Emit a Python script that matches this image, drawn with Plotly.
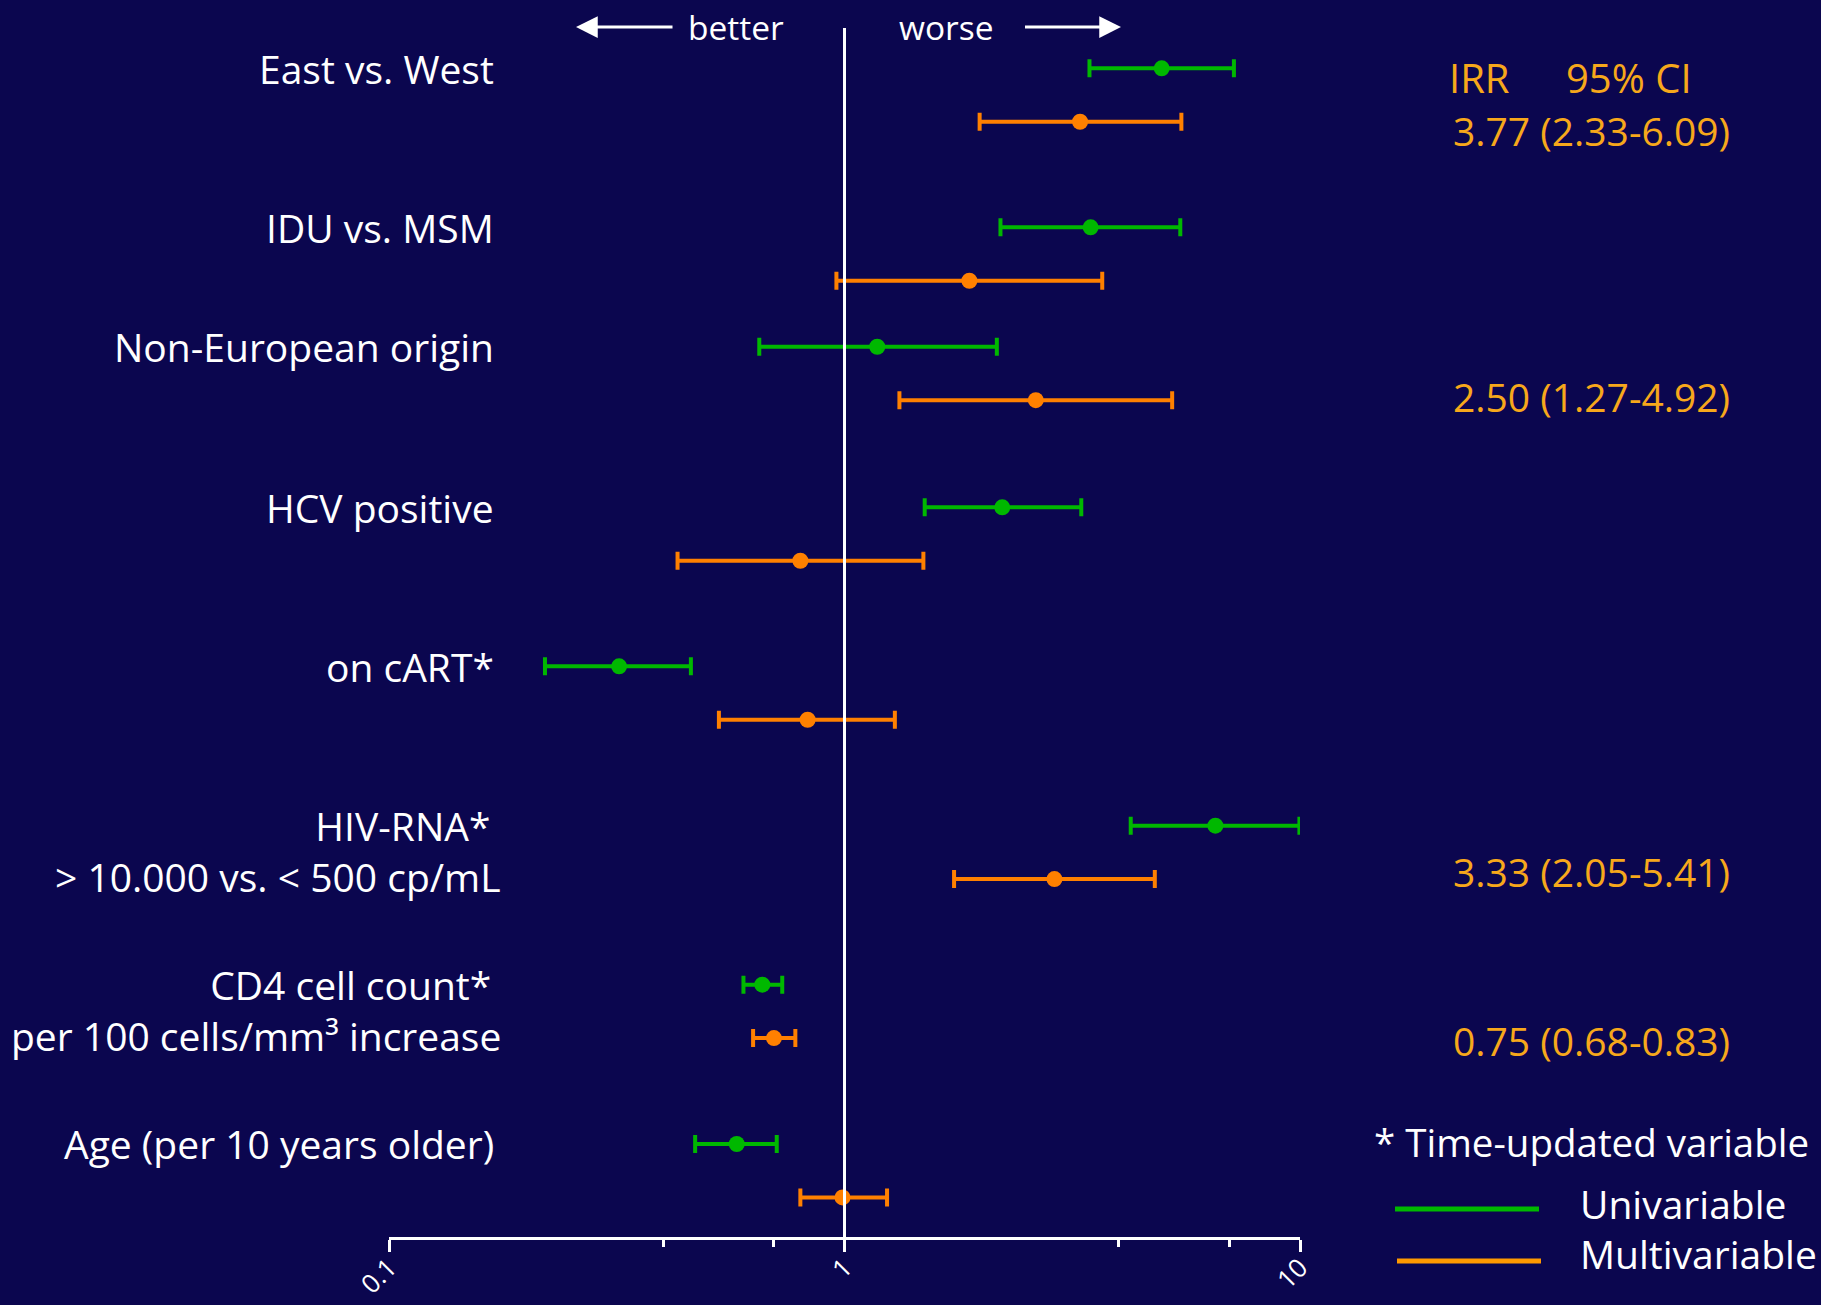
import plotly.graph_objects as go

# ---------------- data ----------------
labels = ["East vs. West", "IDU vs. MSM", "Non-European origin", "HCV positive",
          "on cART*", "HIV-RNA*", "CD4 cell count*", "Age (per 10 years older)"]
sublabels = ["", "", "", "", "", "> 10.000 vs. < 500 cp/mL",
             "per 100 cells/mm³ increase", ""]
group_pos = [0, 1, 1.751, 2.761, 3.761, 4.763, 5.763, 6.765]

uni_irr = [4.97, 3.47, 1.18, 2.22, 0.32, 6.52, 0.66, 0.58]
uni_lo = [3.45, 2.20, 0.65, 1.50, 0.22, 4.25, 0.60, 0.47]
uni_hi = [7.16, 5.46, 2.16, 3.31, 0.46, 9.97, 0.73, 0.71]

multi_irr = [3.29, 1.88, 2.63, 0.80, 0.83, 2.89, 0.70, 0.99]
multi_lo = [1.98, 0.96, 1.32, 0.43, 0.53, 1.74, 0.63, 0.80]
multi_hi = [5.49, 3.68, 5.24, 1.49, 1.29, 4.80, 0.78, 1.24]

irr_text = ["3.77 (2.33-6.09)", "", "2.50 (1.27-4.92)", "", "",
            "3.33 (2.05-5.41)", "0.75 (0.68-0.83)", ""]

tick_vals = [0.1, 1, 10]
tick_text = ["0.1", "1", "10"]
minor_vals = [0.4, 0.7, 4, 7]

# ---------------- styling ----------------
W, H = 1821, 1305
BG = "#0B064F"
GREEN = "#00B800"
ORANGE = "#FF8000"
AMBER = "#F7A81B"
FONT = "Open Sans"
OFF = 0.336  # vertical offset of multivariable row
irr_yshift = [-9, 0, 4, 0, 0, 8, -2, 0]  # pixel nudges of the IRR text

y_uni = list(group_pos)
y_multi = [p + OFF for p in group_pos]

fig = go.Figure()

fig.add_trace(go.Scatter(
    x=uni_irr, y=y_uni, mode="markers", name="Univariable",
    marker=dict(color=GREEN, size=16),
    error_x=dict(type="data", symmetric=False,
                 array=[h - v for h, v in zip(uni_hi, uni_irr)],
                 arrayminus=[v - l for v, l in zip(uni_irr, uni_lo)],
                 color=GREEN, thickness=4, width=9),
    showlegend=False, cliponaxis=False))

fig.add_trace(go.Scatter(
    x=multi_irr, y=y_multi, mode="markers", name="Multivariable",
    marker=dict(color=ORANGE, size=16),
    error_x=dict(type="data", symmetric=False,
                 array=[h - v for h, v in zip(multi_hi, multi_irr)],
                 arrayminus=[v - l for v, l in zip(multi_irr, multi_lo)],
                 color=ORANGE, thickness=4, width=9),
    showlegend=False, cliponaxis=False))

# reference line at IRR = 1
y_top, y_bot = -0.2535, 7.350
fig.add_trace(go.Scatter(x=[1, 1], y=[y_top, y_bot], mode="lines",
                         line=dict(color="white", width=3),
                         hoverinfo="skip", showlegend=False, cliponaxis=False))

x0p, x1p = 389 / W, 1300 / W
fig.update_layout(
    width=W, height=H,
    margin=dict(l=0, r=0, t=0, b=0, autoexpand=False),
    paper_bgcolor=BG, plot_bgcolor=BG,
    font=dict(family=FONT, color="white"),
    xaxis=dict(type="log", range=[-1, 1], domain=[x0p, x1p], automargin=False,
               showgrid=False, zeroline=False,
               showline=True, linecolor="white", linewidth=3,
               ticks="outside", ticklen=12, tickwidth=3, tickcolor="white",
               tickvals=tick_vals, ticktext=tick_text, tickangle=-45,
               ticklabelstandoff=-10,
               tickfont=dict(size=26, color="white", family=FONT),
               minor=dict(tickvals=minor_vals, ticks="outside", ticklen=7,
                          tickwidth=3, tickcolor="white", showgrid=False)),
    yaxis=dict(range=[y_bot, y_top], domain=[1 - 1237 / H, 1 - 28 / H],
               automargin=False, visible=False, showgrid=False, zeroline=False),
)

LBL = 39
ann = []
# row labels (two-line labels as one text block)
for lab, sub, p in zip(labels, sublabels, group_pos):
    if sub:
        ann.append(dict(text=lab + "&nbsp;<br>" + sub, xref="paper", x=503 / W,
                        yref="y", y=p, yshift=-0.65 * LBL, align="right",
                        xanchor="right", yanchor="middle", showarrow=False,
                        font=dict(size=LBL, color="white", family=FONT)))
    else:
        ann.append(dict(text=lab, xref="paper", x=496 / W, yref="y", y=p,
                        xanchor="right", yanchor="middle", showarrow=False,
                        font=dict(size=LBL, color="white", family=FONT)))
# IRR text
for t, p, ys in zip(irr_text, y_multi, irr_yshift):
    if t:
        ann.append(dict(text=t, xref="paper", x=1451 / W, yref="y", y=p,
                        yshift=ys, xanchor="left", yanchor="middle",
                        showarrow=False,
                        font=dict(size=39, color=AMBER, family=FONT)))
ann.append(dict(text="IRR", xref="paper", x=1447 / W, yref="paper", y=1 - 77 / H,
                xanchor="left", yanchor="middle", showarrow=False,
                font=dict(size=40, color=AMBER, family=FONT)))
ann.append(dict(text="95% CI", xref="paper", x=1564 / W, yref="paper", y=1 - 77 / H,
                xanchor="left", yanchor="middle", showarrow=False,
                font=dict(size=40, color=AMBER, family=FONT)))
# better / worse with arrows
ann.append(dict(text="better", xref="paper", x=576 / W, yref="paper", y=1 - 27 / H,
                ax=160, ay=0, showarrow=True, arrowhead=2, arrowsize=1.45,
                arrowwidth=3, arrowcolor="white", startstandoff=14,
                font=dict(size=33.5, color="white", family=FONT)))
ann.append(dict(text="worse", xref="paper", x=1121 / W, yref="paper", y=1 - 27 / H,
                ax=-175, ay=0, showarrow=True, arrowhead=2, arrowsize=1.45,
                arrowwidth=3, arrowcolor="white", startstandoff=30,
                font=dict(size=33.5, color="white", family=FONT)))
# footnote & legend
ann.append(dict(text="* Time-updated variable", xref="paper", x=1372 / W,
                yref="paper", y=1 - 1142 / H, xanchor="left", yanchor="middle",
                showarrow=False, font=dict(size=38.5, color="white", family=FONT)))
ann.append(dict(text="Univariable", xref="paper", x=1578 / W,
                yref="paper", y=1 - 1203 / H, xanchor="left", yanchor="middle",
                showarrow=False, font=dict(size=39, color="white", family=FONT)))
ann.append(dict(text="Multivariable", xref="paper", x=1578 / W,
                yref="paper", y=1 - 1253 / H, xanchor="left", yanchor="middle",
                showarrow=False, font=dict(size=39, color="white", family=FONT)))
fig.update_layout(annotations=ann)

fig.update_layout(shapes=[
    dict(type="line", xref="paper", yref="paper", x0=1395 / W, x1=1539 / W,
         y0=1 - 1209 / H, y1=1 - 1209 / H, line=dict(color=GREEN, width=5)),
    dict(type="line", xref="paper", yref="paper", x0=1397 / W, x1=1541 / W,
         y0=1 - 1261 / H, y1=1 - 1261 / H, line=dict(color="#FF9900", width=5)),
])

fig.write_html(
    "out.html",
    config={"displayModeBar": False},
    post_script="document.body.style.margin='0';document.body.style.overflow='hidden';"
                "document.body.style.background='" + BG + "';",
)
